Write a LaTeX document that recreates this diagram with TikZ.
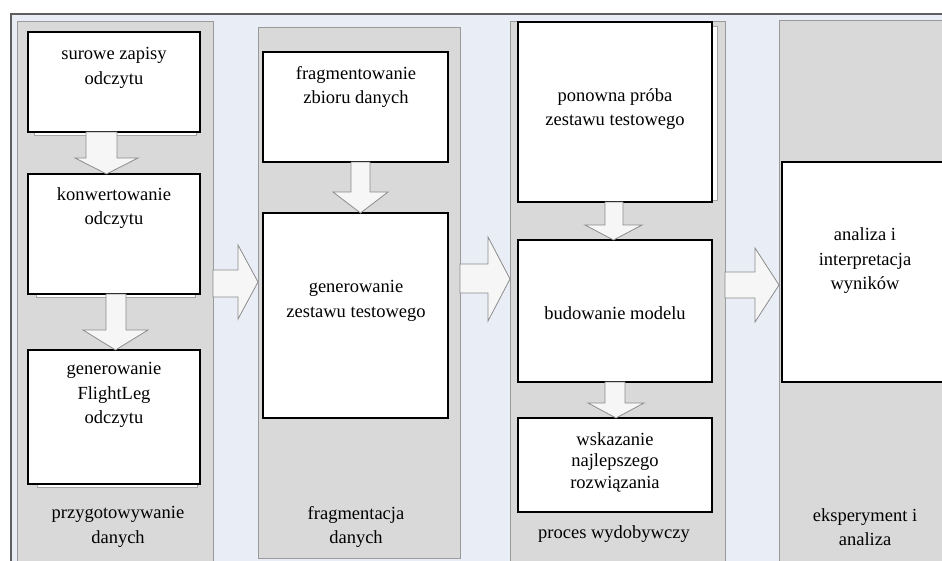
\documentclass[tikz,border=0pt]{standalone}
\usepackage{fontspec}
\setmainfont{Liberation Serif}
\usetikzlibrary{calc}
\definecolor{framebg}{HTML}{E9EDF5}
\definecolor{framedraw}{HTML}{5F5F5F}
\definecolor{colbg}{HTML}{D9D9D9}
\definecolor{coldraw}{HTML}{9A9A9A}
\definecolor{arrfill}{HTML}{F6F6F6}
\definecolor{arrdraw}{HTML}{8C8C8C}
\definecolor{shadowdraw}{HTML}{A6A6A6}
\tikzset{
  colbox/.style={rectangle, draw=coldraw, fill=colbg, line width=0.9pt, inner sep=0pt, outer sep=0pt, anchor=north west},
  stagebox/.style={rectangle, draw=black, fill=white, line width=1.4pt, inner sep=0pt, outer sep=0pt, anchor=north west},
  shadowbox/.style={rectangle, draw=shadowdraw, fill=white, line width=0.8pt, inner sep=0pt, outer sep=0pt, anchor=north west},
  txt/.style={align=center, font=\fontsize{18.5}{24.5}\selectfont, inner sep=0pt},
  txtsmall/.style={align=center, font=\fontsize{18.5}{21.5}\selectfont, inner sep=0pt},
  bigarrow/.style={draw=arrdraw, fill=arrfill, line width=0.8pt, line join=miter},
}
% rectangle node from pixel corners (x1,y1) to (x2,y2)
\newcommand\rectnode[6]{\node[#1, minimum width={#5-#3}, minimum height={#6-#4}] (#2) at (#3,#4) {};}
% vertical block arrow: from, to, shaftL, shaftR, headL, headR, headLen
\newcommand\vblock[7]{%
  \path[bigarrow] let \p1=(#1.south), \p2=(#2.north) in
    (#3pt,\y1) -- (#4pt,\y1) -- (#4pt,{\y2+#7pt}) -- (#6pt,{\y2+#7pt})
    -- ({(#5pt+#6pt)/2},\y2) -- (#5pt,{\y2+#7pt}) -- (#3pt,{\y2+#7pt}) -- cycle;}
% horizontal block arrow: from, to, shaftTop, shaftBot, headTop, headBot, baseX, tipY
\newcommand\hblock[8]{%
  \path[bigarrow] let \p1=(#1.east), \p2=(#2.west) in
    (\x1,-#3pt) -- (#7pt,-#3pt) -- (#7pt,-#5pt) -- (\x2,-#8pt)
    -- (#7pt,-#6pt) -- (#7pt,-#4pt) -- (\x1,-#4pt) -- cycle;}
\begin{document}
\begin{tikzpicture}[x=1pt,y=-1pt]
\useasboundingbox (0,0) rectangle (942,560);
\fill[white] (0,0) rectangle (942,560);
\clip (0,0) rectangle (942,560);
% outer frame
\rectnode{rectangle, draw=framedraw, fill=framebg, line width=1.6pt, inner sep=0pt, anchor=north west}{frame}{10}{13}{980}{600}
% columns
\rectnode{colbox}{c1}{17}{21}{213}{580}
\rectnode{colbox}{c2}{258}{27}{460}{558}
\rectnode{colbox}{c3}{510}{21}{725}{580}
\rectnode{colbox}{c4}{779}{20}{970}{580}
% big arrows between columns
\hblock{c1}{c2}{270}{297}{245}{319}{238}{282}
\hblock{c2}{c3}{264}{293}{237}{321}{488}{279}
\hblock{c3}{c4}{272}{298}{248}{322}{755}{285}
% shadows
\rectnode{shadowbox}{s1}{34}{36}{196}{135}
\rectnode{shadowbox}{s2}{36}{178}{195}{297}
\rectnode{shadowbox}{s3}{37}{354}{197}{487}
\rectnode{shadowbox}{s4}{522}{26}{717}{200}
% stage boxes
\rectnode{stagebox}{b1}{28}{32}{200}{132}
\rectnode{stagebox}{b2}{28}{174}{200}{294}
\rectnode{stagebox}{b3}{28}{350}{200}{484}
\rectnode{stagebox}{f1}{263}{52}{448}{162}
\rectnode{stagebox}{f2}{263}{213}{448}{418}
\rectnode{stagebox}{p1}{518}{22}{712}{202}
\rectnode{stagebox}{p2}{518}{240}{712}{382}
\rectnode{stagebox}{p3}{518}{418}{712}{512}
\rectnode{stagebox}{a1}{782}{162}{970}{382}
% arrows inside columns
\vblock{b1}{b2}{86}{117}{75}{138}{16}
\vblock{b2}{b3}{106}{126}{83}{148}{20}
\vblock{f1}{f2}{351}{370}{333}{388}{21}
\vblock{p1}{p2}{605}{623}{585}{642}{15}
\vblock{p2}{p3}{605}{625}{588}{644}{15}
% texts
\node[txt] (tb1) at (114,68) {surowe zapisy\\odczytu};
\node[txt] (tb2) at (114,208) {konwertowanie\\odczytu};
\node[txt] (tb3) at (114,395) {generowanie\\FlightLeg\\odczytu};
\node[txt] (tf1) at (356,87) {fragmentowanie\\zbioru danych};
\node[txt] (tf2) at (356,301) {generowanie\\zestawu testowego};
\node[txt] (tp1) at (615,109) {ponowna próba\\zestawu testowego};
\node[txt] (tp2) at (615,313) {budowanie modelu};
\node[txtsmall] (tp3) at (615,462) {wskazanie\\najlepszego\\rozwiązania};
\node[txt] (ta1) at (865,261) {analiza i\\interpretacja\\wyników};
\node[txt] (l1) at (118,527) {przygotowywanie\\danych};
\node[txt] (l2) at (356,527) {fragmentacja\\danych};
\node[txt] (l3) at (614,534) {proces wydobywczy};
\node[txt] (l4) at (865,527) {eksperyment i\\analiza};
\end{tikzpicture}
\end{document}
